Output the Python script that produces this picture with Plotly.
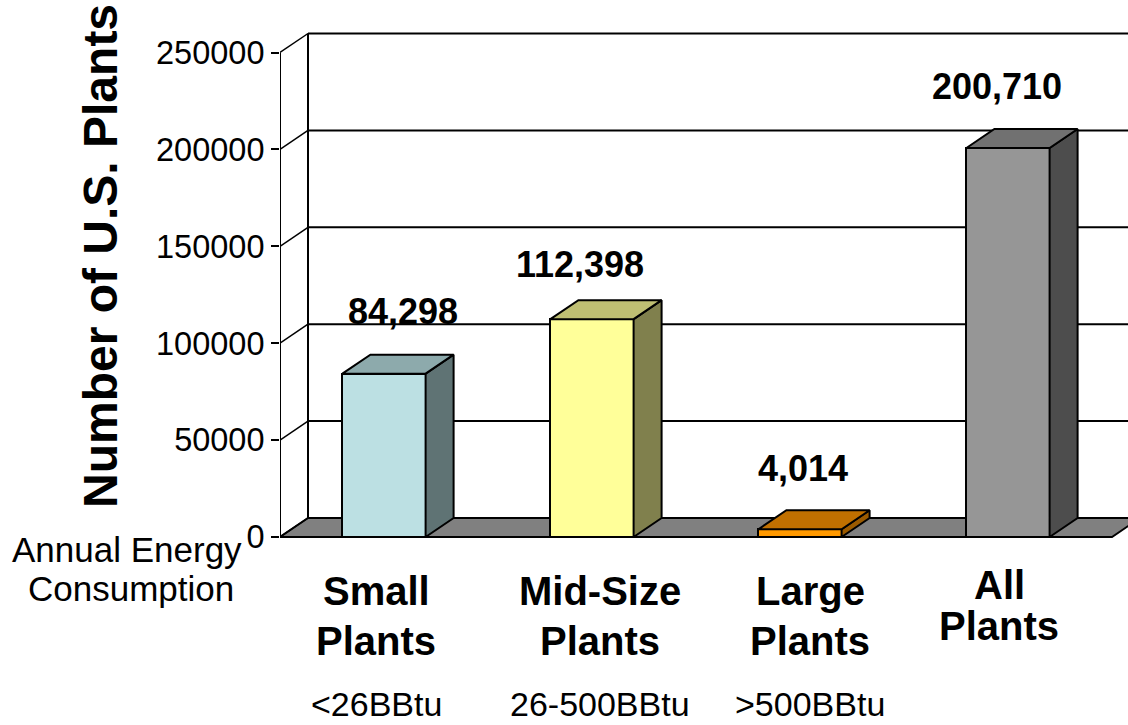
import plotly.graph_objects as go

# ---- data -------------------------------------------------------------
categories = ["Small Plants", "Mid-Size Plants", "Large Plants", "All Plants"]
plant_counts = [84298, 112398, 4014, 200710]
name_line1 = ["Small", "Mid-Size", "Large", "All"]
name_line2 = ["Plants", "Plants", "Plants", "Plants"]
energy_ranges = ["<26BBtu", "26-500BBtu", ">500BBtu", ""]
y_ticks = [0, 50000, 100000, 150000, 200000, 250000]

# ---- styling ----------------------------------------------------------
front_colors = ["#BCE0E3", "#FFFF99", "#FF9900", "#969696"]
top_colors = ["#8DAAAC", "#BFBF73", "#C07000", "#717171"]
side_colors = ["#5F7374", "#80804D", "#9A5A00", "#4D4D4D"]
FONT = "Liberation Sans, Arial, sans-serif"

W, H = 1128, 725
M_L, M_R, M_T, M_B = 280, 0, 0, 165
PLOT_W = W - M_L - M_R
PLOT_H = H - M_T - M_B
BAND_PX = 208            # pixels per category band
ZERO_PX = 537            # screen row of value 0 (front edge)
TOP_PX = 52.5            # screen row of the top tick (front edge)
Y_TOP_VAL = 250000
BAR_FRAC = 0.40          # front face width as fraction of band
DEPTH_DX_PX, DEPTH_DY_PX = 28, 19   # oblique depth offset

px_per_val = (ZERO_PX - TOP_PX) / Y_TOP_VAL
y_lo = -(M_T + PLOT_H - ZERO_PX) / px_per_val
y_hi = (ZERO_PX - M_T) / px_per_val
x_lo = -0.5
x_hi = x_lo + PLOT_W / BAND_PX
dx = DEPTH_DX_PX / BAND_PX
dy = DEPTH_DY_PX / px_per_val
n = len(categories)


def paper_y(px):
    return (M_T + PLOT_H - px) / PLOT_H


def paper_x(px):
    return (px - M_L) / PLOT_W


fig = go.Figure()

# floor and back wall
shapes = []
shapes.append(dict(type="path", xref="x", yref="y", layer="below",
                   path=(f"M {x_lo},0 L {x_lo + n},0 L {x_lo + n + dx},{dy} "
                         f"L {x_lo + dx},{dy} Z"),
                   fillcolor="#808080", line=dict(color="black", width=2)))
shapes.append(dict(type="line", xref="x", yref="y", layer="below",
                   x0=x_lo + dx, x1=x_hi, y0=dy, y1=dy,
                   line=dict(color="black", width=2)))
for v in y_ticks[1:]:
    shapes.append(dict(type="line", xref="x", yref="y", layer="below",
                       x0=x_lo + dx, x1=x_hi, y0=v + dy, y1=v + dy,
                       line=dict(color="black", width=2)))
for v in y_ticks:
    shapes.append(dict(type="line", xref="x", yref="y", layer="below",
                       x0=x_lo, x1=x_lo + dx, y0=v, y1=v + dy,
                       line=dict(color="black", width=1.5)))
shapes.append(dict(type="line", xref="x", yref="y", layer="below",
                   x0=x_lo + dx, x1=x_lo + dx, y0=dy, y1=Y_TOP_VAL + dy,
                   line=dict(color="black", width=2)))
fig.update_layout(shapes=shapes)

# front faces of the columns
fig.add_trace(go.Bar(
    x=list(range(n)), y=plant_counts, width=BAR_FRAC,
    marker=dict(color=front_colors, line=dict(color="black", width=2)),
    hoverinfo="skip", showlegend=False))

# side and top faces derived from each value
half = BAR_FRAC / 2
for i, v in enumerate(plant_counts):
    xr, xl = i + half, i - half
    fig.add_trace(go.Scatter(
        x=[xr, xr + dx, xr + dx, xr, xr], y=[0, dy, v + dy, v, 0],
        mode="lines", fill="toself", fillcolor=side_colors[i],
        line=dict(color="black", width=2), hoverinfo="skip", showlegend=False))
    fig.add_trace(go.Scatter(
        x=[xl, xr, xr + dx, xl + dx, xl], y=[v, v, v + dy, v + dy, v],
        mode="lines", fill="toself", fillcolor=top_colors[i],
        line=dict(color="black", width=2), hoverinfo="skip", showlegend=False))

# front value axis line
fig.add_trace(go.Scatter(
    x=[x_lo, x_lo], y=[0, Y_TOP_VAL], mode="lines", cliponaxis=False,
    line=dict(color="black", width=2), hoverinfo="skip", showlegend=False))

annotations = []
# value labels above the columns
label_xshift = [19, -12, 3, -11]
label_yshift = [62, 55, 61, 62]
for i, v in enumerate(plant_counts):
    annotations.append(dict(
        x=i, y=v, xref="x", yref="y", text=f"<b>{v:,}</b>",
        showarrow=False, xshift=label_xshift[i], yshift=label_yshift[i],
        font=dict(family=FONT, size=36, color="black")))

# category names
line1_px = [591, 591, 591, 585]
line2_px = [641, 641, 641, 626]
name_xshift = [-8, 8, 10, -9]
for i in range(n):
    annotations.append(dict(
        x=i, y=paper_y(line1_px[i]), xref="x", yref="paper",
        text=f"<b>{name_line1[i]}</b>", showarrow=False, yanchor="middle",
        xshift=name_xshift[i], font=dict(family=FONT, size=40, color="black")))
    annotations.append(dict(
        x=i, y=paper_y(line2_px[i]), xref="x", yref="paper",
        text=f"<b>{name_line2[i]}</b>", showarrow=False, yanchor="middle",
        xshift=name_xshift[i], font=dict(family=FONT, size=40, color="black")))
    if energy_ranges[i]:
        annotations.append(dict(
            x=i, y=paper_y(704), xref="x", yref="paper",
            text=energy_ranges[i], showarrow=False, yanchor="middle",
            xshift=name_xshift[i], font=dict(family=FONT, size=34, color="black")))

annotations.append(dict(
    x=paper_x(127), y=paper_y(549), xref="paper", yref="paper",
    text="Annual Energy", showarrow=False, yanchor="middle", xanchor="center",
    font=dict(family=FONT, size=35, color="black")))
annotations.append(dict(
    x=paper_x(131), y=paper_y(588), xref="paper", yref="paper",
    text="Consumption", showarrow=False, yanchor="middle", xanchor="center",
    font=dict(family=FONT, size=35, color="black")))

# value axis title
annotations.append(dict(
    x=paper_x(100), y=paper_y(256), xref="paper", yref="paper",
    text="<b>Number of U.S. Plants</b>", textangle=-90, showarrow=False,
    xanchor="center", yanchor="middle",
    font=dict(family=FONT, size=48, color="black")))

fig.update_layout(
    width=W, height=H,
    margin=dict(l=M_L, r=M_R, t=M_T, b=M_B, pad=0),
    paper_bgcolor="white", plot_bgcolor="white",
    bargap=0, annotations=annotations,
    xaxis=dict(range=[x_lo, x_hi], visible=False, fixedrange=True),
    yaxis=dict(range=[y_lo, y_hi], tickvals=y_ticks,
               ticktext=[str(t) for t in y_ticks],
               ticks="outside", ticklen=8, tickwidth=2, tickcolor="black",
               showgrid=False, zeroline=False, showline=False,
               tickfont=dict(family=FONT, size=32.5, color="black"),
               fixedrange=True),
)

fig.write_html("out.html")
